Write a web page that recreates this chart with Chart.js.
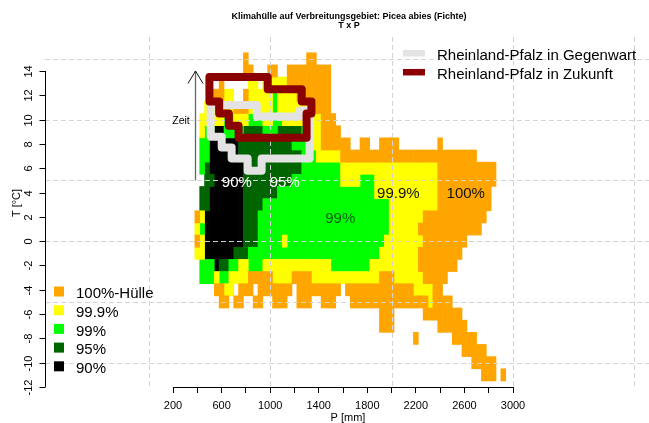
<!DOCTYPE html>
<html><head><meta charset="utf-8">
<script src="https://cdn.jsdelivr.net/npm/chart.js@4/dist/chart.umd.min.js"></script>
<style>html,body{margin:0;padding:0;background:#fff;}canvas{display:block;}</style>
</head><body>
<canvas id="c" width="649" height="423"></canvas>
<script>
const titleLines = ['Klimahülle auf Verbreitungsgebiet: Picea abies (Fichte)', 'T x P'];
const xTitle = 'P [mm]';
const yTitle = 'T [°C]';
const xTicks = [200,400,600,800,1000,1200,1400,1600,1800,2000,2200,2400,2600,2800,3000];
const xTickLabels = [200,600,1000,1400,1800,2200,2600,3000];
const yTicks = [-12,-10,-8,-6,-4,-2,0,2,4,6,8,10,12,14];
const gridP = [0,1000,2000,3000,4000];
const gridT = [-10,-5,0,5,10,15];

const classCodes = ['o','y','g','d','k'];
const classLabels = ['100%-Hülle','99.9%','99%','95%','90%'];
const classColors = ['#FFA500','#FFFF00','#00FF00','#006400','#000000'];

// raster cells: precipitation column centres (mm) and temperature row centres (°C)
const colStartP = 360, colStepP = 40, nCols = 65;
const pCenters = Array.from({length: nCols}, (_, i) => colStartP + colStepP * i);
const rowT = [15,14,13,12,11,10,9,8,7,6,5,4,3,2,1,0,-1,-2,-3,-4,-5,-6,-7,-8,-9,-10,-11];
// per row: column-index ranges and class code
const rowCells = [
  "11o 24-25o",
  "11-12o 16-17o 20-28o",
  "6o 12-13y 15-19y 20-28o",
  "4-6o 7-8y 11o 12-16y 17g 18-21y 22-28o",
  "3-8y 9-11o 12y 13g 14-16y 17g 18-24y 25-28o",
  "2-6y 7-8g 9-11y 12-14g 15-16y 17-18g 19-23y 24g 25-26y 27-29o",
  "2y 3-4g 5-6k 7-10g 11-14d 15-17g 18-22d 23-24g 25-26y 27-30o",
  "2-3g 4-9k 10-20d 21-24g 25-26y 27-32o 35-36o 39-42o 51o",
  "2-3g 4-9k 10-22d 23-25g 26-30y 31-58o",
  "2g 3d 4-10k 11-22d 23-30g 31-50y 51-62o",
  "3-4d 5-10k 11-20d 21-30g 31-34y 35-37g 38-50y 51-62o",
  "2-3d 4-10k 11-17d 18-37g 38-50y 51-61o",
  "2-3d 4-10k 11-14d 15-40g 41-50y 51-61o",
  "1o 2y 3-10k 11-13d 14-40g 41-47y 48-60o",
  "1y 2g 3-10k 11-13d 14-40g 41-46y 47-59o",
  "1o 2y 3-10k 11-13d 14-18g 19y 20-39g 40-47y 48-56o",
  "1-2y 3-8k 9-11d 12-38g 39-46y 47-55o",
  "2-4g 5k 6-7d 8-9g 10-11y 12-14g 15-28y 29-36g 37-46y 47-54o",
  "2-4g 5y 6-7g 8-11y 12-16o 17-20y 21-24o 25-38y 39-41o 42-47y 48-52o",
  "5-6o 7-8y 10-12o 14-20o 22-30o 32-38o 39-45o 46-49y 50-51o",
  "6-7o 9-10o 13-14o 17-19o 22-24o 27-29o 33-48o 49y 50-53o",
  "39-41o 48-55o",
  "39-41o 51-56o",
  "46o 54-58o",
  "56-60o",
  "58-62o",
  "60-62o 64o"
];

const outlineLabels = ['Rheinland-Pfalz in Gegenwart', 'Rheinland-Pfalz in Zukunft'];
const outlineColors = ['#E3E3E3', '#8B0000'];
const presentP = [510, 510, 890, 890, 1245, 1245, 1325, 1325, 930, 930, 815, 815, 683, 683, 601, 601, 510];
const presentT = [8.6, 11.2, 11.2, 10.25, 10.25, 10.75, 10.75, 6.8, 6.8, 5.8, 5.8, 6.8, 6.8, 7.7, 7.7, 8.6, 8.6];
const futureP = [500, 980, 980, 1260, 1260, 1340, 1340, 1300, 1300, 740, 740, 660, 660, 580, 580, 500, 500];
const futureT = [13.5, 13.5, 12.5, 12.5, 11.5, 11.5, 10.5, 10.5, 8.5, 8.5, 9.5, 9.5, 10.5, 10.5, 11.5, 11.5, 13.5];

const areaLabels = ['90%', '95%', '99%', '99.9%', '100%'];
const areaLabelP = [726, 1120, 1577, 2056, 2611];
const areaLabelT = [4.9, 4.9, 1.94, 4.03, 4.03];
const areaLabelColors = ['#FFFFFF', '#FFFFFF', '#0B5E0B', '#111111', '#111111'];

const arrowText = 'Zeit';
const arrowP = [384, 384];
const arrowT = [5, 14];

const FONT = "'Liberation Sans', Arial, Helvetica, sans-serif";

function parseRow(s) {
  const cells = new Array(nCols).fill(null);
  s.trim().split(/\s+/).filter(Boolean).forEach(tok => {
    const m = tok.match(/^(\d+)(?:-(\d+))?([a-z])$/);
    const a = +m[1], b = m[2] ? +m[2] : a;
    for (let c = a; c <= b; c++) cells[c] = m[3];
  });
  return cells;
}
const cellGrid = rowCells.map(parseRow);
const barData = classCodes.map(() => []);
for (let c = 0; c < nCols; c++) {
  let r = 0;
  while (r < rowT.length) {
    const code = cellGrid[r][c];
    if (!code) { r++; continue; }
    let r2 = r;
    while (r2 + 1 < rowT.length && cellGrid[r2 + 1][c] === code) r2++;
    barData[classCodes.indexOf(code)].push({x: pCenters[c], y: [rowT[r2] - 0.5, rowT[r] + 0.5]});
    r = r2 + 1;
  }
}

function lineDs(P, T, color) {
  return {type: 'line', data: P.map((p, i) => ({x: p, y: T[i]})), borderColor: color, borderWidth: 8,
    pointRadius: 0, tension: 0, fill: false, clip: false, borderJoinStyle: 'round', borderCapStyle: 'round'};
}

const datasets = [
  lineDs(futureP, futureT, outlineColors[1]),
  lineDs(presentP, presentT, outlineColors[0]),
  ...classCodes.map((c, k) => ({type: 'bar', label: classLabels[k], data: barData[k], backgroundColor: classColors[k],
    borderWidth: 0, grouped: false, barPercentage: 1, categoryPercentage: 1, clip: false}))
];

function text(ctx, s, x, y, size, color, align, base, weight) {
  ctx.save();
  ctx.font = (weight || 'normal') + ' ' + size + 'px ' + FONT;
  ctx.fillStyle = color; ctx.textAlign = align || 'left'; ctx.textBaseline = base || 'alphabetic';
  ctx.fillText(s, x, y);
  ctx.restore();
}

const deco = {
  id: 'deco',
  afterDatasetDraw(chart, args) {
    if (args.index !== 2) return;
    const {ctx, scales: {x, y}} = chart;
    ctx.save();
    ctx.strokeStyle = '#D3D3D3'; ctx.lineWidth = 1; ctx.setLineDash([5, 3]);
    gridT.forEach(t => {
      const py = Math.round(y.getPixelForValue(t)) + 0.5;
      ctx.beginPath(); ctx.moveTo(45, py); ctx.lineTo(649, py); ctx.stroke();
    });
    gridP.forEach(p => {
      const px = Math.round(x.getPixelForValue(p)) + 0.5;
      ctx.beginPath(); ctx.moveTo(px, 37); ctx.lineTo(px, 387); ctx.stroke();
    });
    ctx.restore();
  },
  afterDraw(chart) {
    const {ctx, scales: {x, y}} = chart;
    // title
    text(ctx, titleLines[0], 349, 18.5, 9, '#000', 'center', 'alphabetic', 'bold');
    text(ctx, titleLines[1], 349, 28, 9, '#000', 'center', 'alphabetic', 'bold');
    // y axis
    ctx.save();
    ctx.strokeStyle = '#000'; ctx.lineWidth = 1;
    ctx.beginPath(); ctx.moveTo(45.5, y.getPixelForValue(14)); ctx.lineTo(45.5, y.getPixelForValue(-12)); ctx.stroke();
    yTicks.forEach(t => {
      const py = Math.round(y.getPixelForValue(t)) + 0.5;
      ctx.beginPath(); ctx.moveTo(39.5, py); ctx.lineTo(45.5, py); ctx.stroke();
      ctx.save(); ctx.translate(31.5, py); ctx.rotate(-Math.PI / 2);
      ctx.font = '11px ' + FONT; ctx.fillStyle = '#000'; ctx.textAlign = 'center'; ctx.textBaseline = 'alphabetic';
      ctx.fillText(String(t), 0, 0); ctx.restore();
    });
    ctx.save(); ctx.translate(20, 203); ctx.rotate(-Math.PI / 2);
    ctx.font = '11px ' + FONT; ctx.fillStyle = '#000'; ctx.textAlign = 'center'; ctx.textBaseline = 'alphabetic';
    ctx.fillText(yTitle, 0, 0); ctx.restore();
    ctx.restore();
    // x title
    text(ctx, xTitle, 348, 421, 11, '#000', 'center');
    // area labels
    areaLabels.forEach((s, i) => {
      text(ctx, s, x.getPixelForValue(areaLabelP[i]), y.getPixelForValue(areaLabelT[i]) + 5.5, 15, areaLabelColors[i], 'center');
    });
    // time arrow
    const ax = Math.round(x.getPixelForValue(arrowP[0])) + 0.5;
    const ay0 = y.getPixelForValue(arrowT[0]), ay1 = y.getPixelForValue(arrowT[1]);
    ctx.save();
    ctx.strokeStyle = '#666'; ctx.lineWidth = 1.3;
    ctx.beginPath(); ctx.moveTo(ax, ay0); ctx.lineTo(ax, ay1); ctx.stroke();
    ctx.strokeStyle = '#111'; ctx.lineWidth = 1;
    ctx.beginPath(); ctx.moveTo(ax - 7.5, ay1 + 12.5); ctx.lineTo(ax, ay1); ctx.lineTo(ax + 7.5, ay1 + 12.5); ctx.stroke();
    ctx.restore();
    text(ctx, arrowText, 181, 124, 10.5, '#000', 'center');
    // raster legend (bottom left)
    classLabels.forEach((s, i) => {
      const cy = 291.5 + i * 18.7;
      ctx.fillStyle = classColors[i];
      ctx.fillRect(54, cy - 5, 10, 10);
      text(ctx, s, 76, cy + 6.8, 15, '#000');
    });
    // outline legend (top right)
    outlineLabels.forEach((s, i) => {
      const cy = 53.3 + i * 18.9;
      ctx.save(); ctx.strokeStyle = outlineColors[i]; ctx.lineWidth = 6.5; ctx.lineCap = 'butt';
      ctx.beginPath(); ctx.moveTo(403, cy); ctx.lineTo(425, cy); ctx.stroke(); ctx.restore();
      text(ctx, s, 437, cy + 6.7, 15, '#000');
    });
  }
};

new Chart(document.getElementById('c'), {
  type: 'bar',
  data: {datasets},
  options: {
    responsive: false, animation: false, devicePixelRatio: 1, events: [],
    layout: {padding: {left: 173, right: 136, top: 71, bottom: 0}},
    plugins: {legend: {display: false}, tooltip: {enabled: false}, title: {display: false}},
    scales: {
      x: {
        type: 'linear', min: 200, max: 3000, offset: false, position: 'bottom',
        afterBuildTicks: s => { s.ticks = xTicks.map(v => ({value: v})); },
        afterFit: s => { s.height = 36; },
        grid: {display: true, offset: false, drawOnChartArea: false, drawTicks: true, tickLength: 6, color: '#000', lineWidth: 1},
        border: {display: true, color: '#000', width: 1},
        ticks: {autoSkip: false, maxRotation: 0, minRotation: 0, padding: 6, color: '#000',
          font: {size: 11, family: FONT}, callback: v => xTickLabels.includes(v) ? String(v) : ''}
      },
      y: {type: 'linear', display: false, min: -12, max: 14}
    }
  },
  plugins: [deco]
});
</script>
</body></html>
